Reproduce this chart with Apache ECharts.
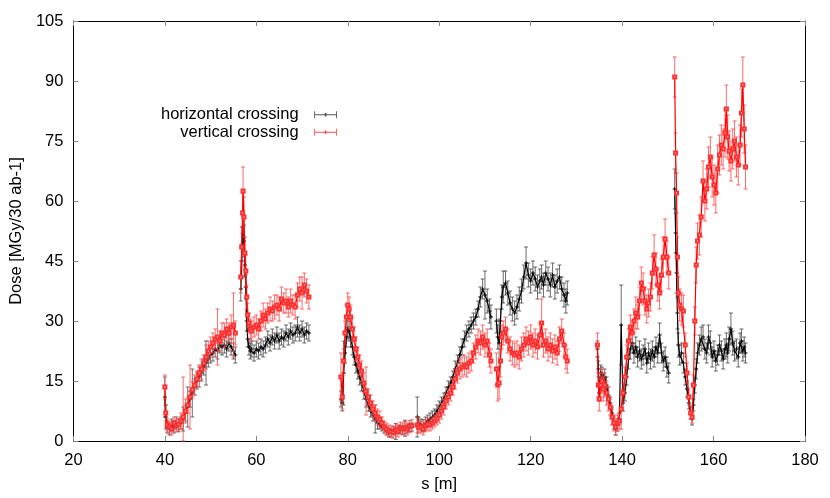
<!DOCTYPE html>
<html>
<head>
<meta charset="utf-8">
<script src="https://cdn.jsdelivr.net/npm/echarts@6/dist/echarts.min.js"></script>
<style>
  html, body { margin: 0; padding: 0; background: #fff; }
  #main { width: 830px; height: 498px; }
</style>
</head>
<body>
<div id="main"></div>
<script>
// s positions [m]; null entries in the dose arrays break the curves
var sPos = [
  40.0, 40.2, 40.5, 41.0, 41.5, 42.0, 42.5, 43.0, 43.5, 44.0,
  44.5, 45.0, 45.5, 46.0, 46.5, 47.0, 47.5, 48.0, 48.5, 49.0,
  49.5, 50.0, 50.5, 51.0, 51.5, 52.0, 52.5, 53.0, 53.5, 54.0,
  54.5, 55.0, 55.4, 56.0,
  56.6, 56.8, 57.0, 57.1, 57.3, 57.5, 57.7, 57.9, 58.1, 58.4, 58.7,
  59.0, 59.5, 60.0, 60.5, 61.0, 61.5, 62.0, 62.5, 63.0, 63.5,
  64.0, 64.5, 65.0, 65.5, 66.0, 66.5, 67.0, 67.5, 68.0, 68.5,
  69.0, 69.5, 70.0, 70.5, 71.0, 71.5, 75.0,
  // 78 - 94
  78.5, 78.8, 79.1, 79.4, 79.7, 80.0, 80.3, 80.6, 81.0, 81.4,
  81.8, 82.2, 82.6, 83.0, 83.5, 84.0, 84.5, 85.0, 85.5, 86.0,
  86.5, 87.0, 87.5, 88.0, 88.5, 89.0, 89.5, 90.0, 90.5, 91.0,
  91.5, 92.0, 92.5, 93.0, 93.5, 94.0, 94.7,
  // 95 - 111
  95.2, 95.5, 96.0, 96.5, 97.0, 97.5, 98.0, 98.5, 99.0, 99.5,
  100.0, 100.5, 101.0, 101.5, 102.0, 102.5, 103.0, 103.5, 104.0, 104.5,
  105.0, 105.5, 106.0, 106.5, 107.0, 107.5, 108.0, 108.5, 109.0, 109.5,
  110.0, 110.5, 111.0, 111.3, 111.8,
  // 112 - 128
  112.5, 112.8, 113.1, 113.4, 113.7, 114.0,
  114.5, 115.0, 115.5, 116.0, 116.5, 117.0, 117.5, 118.0, 118.5, 119.0,
  119.5, 120.0, 120.5, 121.0, 121.5, 122.0,
  122.4, 122.8, 123.3, 123.8, 124.3, 124.8, 125.3, 125.8, 126.3, 126.8, 127.3, 127.7, 128.0,
  131.0,
  // 134 - 150
  134.6, 134.8, 135.0, 135.3, 135.6, 135.9, 136.2, 136.6, 137.0, 137.4,
  137.8, 138.2, 138.6, 139.0, 139.4, 139.8, 140.2, 140.6, 141.0, 141.4,
  141.8, 142.2, 142.6, 143.0, 143.4, 143.8, 144.2, 144.6, 145.0, 145.4,
  145.8, 146.2, 146.6, 147.0, 147.4, 147.8, 148.2, 148.6, 149.0, 149.4,
  149.8, 150.2, 150.9,
  // 151 - 167
  151.5, 151.7, 151.9, 152.1, 152.3, 152.6, 153.0, 153.4, 153.8, 154.2,
  154.6, 155.0, 155.3, 155.6, 155.9, 156.2, 156.5, 156.9, 157.3, 157.7,
  158.1, 158.5, 158.9, 159.3, 159.7, 160.1, 160.5, 160.9, 161.3, 161.7,
  162.1, 162.5, 162.8, 163.1, 163.4, 163.8, 164.2, 164.6, 165.0, 165.4,
  165.8, 166.1, 166.4, 166.7, 167.0
];

var horiz = [
  11, 6, 3.5, 3, 4, 3.5, 4.5, 3.8, 4.5, 5.5,
  7, 8.5, 10.5, 12, 13.5, 15, 16, 17, 18.5, 19.5,
  20.5, 21.5, 22, 23, 22.5, 24, 23.5, 24, 23, 24.5,
  23.5, 22.5, 21.5, null,
  38, 45, 53.5, 52, 50, 44, 38.5, 30, 25.5, 23.5, 22.5,
  23, 22, 23, 22.5, 23.5, 23, 24, 25.5, 24.5, 26,
  25, 26.5, 25, 26, 25.5, 27, 26, 27.5, 26.5, 27,
  28.5, 27, 28, 26.5, 27.5, 27, null,

  10.5, 9.5, 17, 22, 26, 28, 27.5, 26, 23.5, 21,
  19, 17.5, 16, 14.5, 12.5, 10.5, 9, 7.5, 6.5, 5.5,
  4.5, 4, 3.5, 3, 2.5, 2, 2.2, 2.6, 2.4, 2.8,
  3, 2.7, 3.2, 3, 3.4, 3.5, null,

  6, 4.5, 4, 3.8, 4.5, 5, 5.5, 6, 6.5, 7.5,
  8.5, 9.5, 10.5, 12, 13.5, 14.5, 16, 18, 19.5, 21.5,
  23.5, 25.5, 27, 28, 29, 30, 31, 33, 36, 38,
  36.5, 35, 32.5, 31, null,

  30, 26, 24.5, 30, 36, 38.5,
  39.5, 37, 34.5, 33, 32, 33.5, 35.5, 37.5, 41, 44.5,
  41.5, 40, 42, 40.5, 38.5, 40,
  41, 39, 42, 40.5, 39, 41.5, 38.5, 40, 41, 38, 36.5, 35, 37,
  null,

  23, 18, 12, 17, 16.5, 15, 16, 14, 11.5, 9.5,
  7, 4.5, 3, 4, 5.5, 29, 9.5, 12, 16, 20.5,
  23, 24.5, 22, 23.5, 21, 22.5, 20.5, 21.5, 23, 19.5,
  22, 20.5, 22.5, 21, 23.5, 22, 26.5, 22, 20, 21,
  18.5, 17, null,

  63, 52, 42, 32, 24, 21.5, 22, 19.5, 16, 13,
  9.5, 7, 5.5, 9, 14, 18, 22, 24, 25.5, 26,
  23, 22, 26, 24.5, 21, 22.5, 20, 21.5, 24, 22.5,
  20.5, 23, 24, 22, 25.5, 28, 24.5, 22.5, 23, 21,
  24.5, 25, 22.5, 23.5, 22
];

var vert = [
  13.5, 7, 4, 3.5, 3, 4.5, 3.8, 4.2, 5, 6,
  7.5, 9, 11, 12.8, 14, 15.5, 17, 18, 19.5, 21,
  22.5, 23.5, 24.5, 25.5, 26, 25, 27, 26.5, 28, 27,
  28.5, 29, 27, null,
  41, 48.5, 57, 62.5, 56, 47, 42.5, 36, 31.5, 29.5, 28,
  27.5, 28.5, 29, 28, 30, 31.5, 30.5, 32, 33, 32.5,
  33.5, 34, 33, 35.5, 34.5, 35, 33.5, 35, 34, 33.5,
  36.5, 38, 37, 39, 37.5, 36, null,

  16, 11, 20, 27, 31, 34, 33, 31, 28, 25.5,
  23, 21, 19, 17.5, 14.5, 12.5, 11, 9.5, 8, 7,
  6, 5.5, 4.5, 3.5, 3, 2.5, 2.3, 2.2, 2.8, 2.5,
  3.2, 3, 3.4, 3, 3.6, 3.8, null,

  4, 3.5, 3.5, 3, 3.8, 4.2, 4, 4.5, 5, 5.5,
  6.5, 7.5, 8.5, 10, 11, 12, 13.5, 15.5, 17, 18,
  18.5, 19, 18.5, 19.5, 20, 22, 23.5, 25, 24.5, 26,
  24, 25, 21.5, 20, null,

  18, 14, 14.5, 20, 26, 27,
  28, 25, 23, 22, 21.5, 22, 21, 23, 24, 25.5,
  24.5, 26, 24, 25, 23.5, 26.5,
  29.5, 24, 25, 23, 24, 22.5, 23.5, 22, 25.5, 27.5, 24, 21, 20,
  null,

  24, 14, 10.5, 14, 15, 13, 14, 12, 10.5, 8.5,
  6, 4.5, 3.5, 4.5, 5, 8, 12, 16, 21, 25,
  28.5, 27, 30, 32, 31, 35, 39.5, 38, 35, 33,
  34.5, 36, 42, 46.5, 43, 39, 37, 41.5, 46, 50.5,
  46, 42, null,

  91, 72, 62, 46, 37, 34, 33, 32.5, 24, 17,
  11, 7, 6, 14, 30, 44, 50, 51.5, 56, 65,
  60, 63, 68.5, 71, 66, 64, 62, 68, 71.5, 74,
  73, 77, 83, 76, 72.5, 70, 73, 75, 71, 69,
  74, 82, 89, 78, 68.5
];

var horizErr = [
  5, 3, 1.5, 1.5, 1.5, 1.5, 1.5, 1.5, 1.5, 3,
  2, 5, 2, 6, 2, 2, 2.5, 2, 2, 5.5,
  2, 2, 2, 2, 2, 2, 2, 2, 2, 2,
  2, 2, 2, null,
  3, 4, 4, 4, 4, 3, 3, 2.5, 2, 2, 2,
  2, 2, 2, 2, 2, 2, 2, 2, 2, 2,
  2, 2, 2, 2, 2, 2, 2, 2, 2, 2,
  2.5, 2, 2, 2, 2, 2, null,

  2, 2, 8, 2.5, 2.5, 2.5, 2.5, 2.5, 2, 2,
  2, 2, 2, 2, 2, 2, 1.5, 1.5, 1.5, 3.5,
  1.5, 1, 1, 1, 1, 1, 1, 1, 2, 1,
  1, 1, 2, 1, 1, 1, null,

  5, 1.5, 1.5, 1.5, 1.5, 1.5, 1.5, 1.5, 1.5, 1.5,
  1.5, 1.5, 1.5, 1.5, 1.5, 1.5, 1.5, 2, 2, 2,
  2, 2, 2, 2, 2, 2, 2, 2, 2.5, 2.5,
  6, 3, 3, 3, null,

  3, 3, 6, 3, 3, 4,
  3, 3, 3, 3, 3, 3, 3, 3, 3, 4,
  3, 3, 3, 3, 3, 3,
  3, 3, 3, 3, 3, 3, 3, 3, 3, 3, 3, 3, 3,
  null,

  2, 2, 2, 2, 2, 2, 2, 2, 2, 1.5,
  1.5, 1.5, 1.5, 1.5, 1.5, 10, 2, 2, 2, 2.5,
  2.5, 2.5, 2.5, 2.5, 2.5, 2.5, 2.5, 2.5, 2.5, 2.5,
  2.5, 2.5, 2.5, 2.5, 2.5, 2.5, 3, 2.5, 2.5, 2.5,
  2.5, 2.5, null,

  5, 5, 5, 4, 3, 2.5, 2.5, 2.5, 2, 2,
  1.5, 1.5, 1.5, 1.5, 2, 2.5, 2.5, 2.5, 3, 3,
  2.5, 2.5, 3, 3, 2.5, 2.5, 2.5, 2.5, 2.5, 2.5,
  2.5, 2.5, 3, 2.5, 3, 4, 3, 2.5, 2.5, 2.5,
  2.5, 3, 2.5, 2.5, 2.5
];

var vertErr = [
  3, 2, 1.5, 1.5, 1.5, 1.5, 1.5, 1.5, 2, 10,
  3, 2, 8, 2, 2.5, 2, 2, 2.5, 2, 3,
  2.5, 2.5, 2.5, 2.5, 7, 2.5, 2.5, 3, 2.5, 2.5,
  3, 8, 3, null,
  4, 5, 5, 6, 5, 4, 4, 3, 3, 2.5, 2.5,
  2.5, 2.5, 2.5, 2.5, 2.5, 3, 2.5, 2.5, 3, 2.5,
  3, 2.5, 3, 3, 2.5, 3, 2.5, 3, 2.5, 3,
  3, 3, 4, 3, 3, 3, null,

  6, 3, 3, 3, 3, 3, 3, 3, 3, 3,
  3, 2.5, 2.5, 2.5, 2.5, 6, 2, 2, 2, 2,
  2, 2, 1.5, 1.5, 1.5, 1.5, 1.5, 1.5, 1.5, 1.5,
  1.5, 1.5, 1.5, 1.5, 1.5, 1.5, null,

  2, 1.5, 1.5, 1.5, 1.5, 1.5, 1.5, 1.5, 1.5, 1.5,
  2, 2, 2, 2, 2, 2, 2, 2.5, 2.5, 2.5,
  2.5, 2.5, 2.5, 2.5, 2.5, 2.5, 3, 3, 3, 3,
  3, 3, 3, 3, null,

  4, 4, 4, 4, 3, 3,
  3, 3, 3, 3, 3, 3, 3, 3, 3, 3,
  3, 3, 3, 3, 3, 3,
  6, 3, 3, 3, 3, 3, 3, 3, 3, 3, 3, 3, 3,
  null,

  3, 3, 3, 3, 3, 3, 3, 3, 3, 2,
  2, 2, 2, 2, 2, 5, 2.5, 2.5, 3, 3,
  3, 3, 3, 4, 3, 3.5, 4, 4, 3.5, 3.5,
  3.5, 3.5, 4, 5, 4, 4, 4, 4, 5, 5,
  4, 4, null,

  5, 5, 5, 5, 4, 4, 4, 4, 3, 2.5,
  2, 1.5, 1.5, 2.5, 3.5, 4.5, 4.5, 5, 5, 5,
  5, 5, 5, 5, 5, 5, 5, 6, 5, 5,
  5, 6, 6, 5.5, 5, 5, 5, 5, 5, 5,
  5, 6, 7, 6, 5.5
];

var seriesNames = ['horizontal crossing', 'vertical crossing'];
var xTicks = { min: 20, max: 180, step: 20 };
var yTicks = { min: 0, max: 105, step: 15 };

var FONT = 'Liberation Sans, Arial, sans-serif';

function linePoints(ys) {
  return sPos.map(function (x, i) {
    return [x, ys[i] == null ? null : ys[i]];
  });
}
function barPoints(ys, es) {
  var out = [];
  sPos.forEach(function (x, i) {
    if (ys[i] != null) out.push([x, ys[i], es[i]]);
  });
  return out;
}

function errBars(color) {
  return function (params, api) {
    var x = api.value(0), y = api.value(1), e = api.value(2);
    var hi = api.coord([x, y + e]);
    var lo = api.coord([x, Math.max(0, y - e)]);
    var w = 2;
    var st = { stroke: color, lineWidth: 1 };
    return {
      type: 'group',
      children: [
        { type: 'line', shape: { x1: hi[0], y1: hi[1], x2: lo[0], y2: lo[1] }, style: st },
        { type: 'line', shape: { x1: hi[0] - w, y1: hi[1], x2: hi[0] + w, y2: hi[1] }, style: st },
        { type: 'line', shape: { x1: lo[0] - w, y1: lo[1], x2: lo[0] + w, y2: lo[1] }, style: st }
      ]
    };
  };
}

var plusSym = 'path://M4,0h2v4h4v2h-4v4h-2v-4h-4v-2h4z';
var keyIcon = 'path://M0,3.5H26V4.5H0Z M0,0H1V8H0Z M25,0H26V8H25Z M12,2H14V6H12Z';

var myChart = echarts.init(document.getElementById('main'));

function axisBase(pos, showLabels) {
  return {
    type: 'value',
    position: pos,
    axisLine: { show: true, onZero: false, lineStyle: { color: '#000', width: 1 } },
    axisTick: { show: true, inside: true, length: 5, lineStyle: { color: '#888' } },
    splitLine: { show: false },
    axisLabel: { show: showLabels, color: '#000', fontSize: 16.5, fontFamily: FONT }
  };
}

var xBottom = axisBase('bottom', true);
xBottom.min = xTicks.min; xBottom.max = xTicks.max; xBottom.interval = xTicks.step;
xBottom.axisLabel.margin = 11;
xBottom.name = 's [m]';
xBottom.nameLocation = 'middle';
xBottom.nameGap = 35;
xBottom.nameTextStyle = { color: '#000', fontSize: 16.5, fontFamily: FONT };
var xTop = axisBase('top', false);
xTop.min = xTicks.min; xTop.max = xTicks.max; xTop.interval = xTicks.step;

var yLeft = axisBase('left', true);
yLeft.min = yTicks.min; yLeft.max = yTicks.max; yLeft.interval = yTicks.step;
yLeft.axisLabel.margin = 10;
yLeft.name = 'Dose [MGy/30 ab-1]';
yLeft.nameLocation = 'middle';
yLeft.nameGap = 47;
yLeft.nameTextStyle = { color: '#000', fontSize: 16.5, fontFamily: FONT };
var yRight = axisBase('right', false);
yRight.min = yTicks.min; yRight.max = yTicks.max; yRight.interval = yTicks.step;

var option = {
  animation: false,
  backgroundColor: '#fff',
  grid: { left: 72, right: 25, top: 21, bottom: 56 },
  legend: {
    orient: 'vertical',
    left: 156,
    top: 101,
    align: 'right',
    itemWidth: 26,
    itemHeight: 7,
    itemGap: 0,
    padding: 5,
    selectedMode: false,
    textStyle: { color: '#000', fontSize: 16.5, fontFamily: FONT, lineHeight: 17.5, padding: [0, 9, 0, 0] },
    data: [
      { name: seriesNames[0], icon: keyIcon, itemStyle: { color: '#555' } },
      { name: seriesNames[1], icon: keyIcon, itemStyle: { color: '#ff5050' } }
    ]
  },
  xAxis: [xBottom, xTop],
  yAxis: [yLeft, yRight],
  series: [
    {
      type: 'custom',
      renderItem: errBars('rgba(60,60,60,0.75)'),
      data: barPoints(horiz, horizErr),
      encode: { x: 0, y: 1 },
      silent: true,
      z: 1
    },
    {
      name: seriesNames[0],
      type: 'line',
      data: linePoints(horiz),
      connectNulls: false,
      symbol: plusSym,
      symbolSize: 4,
      lineStyle: { color: '#000', width: 1.2 },
      itemStyle: { color: '#000' },
      z: 2
    },
    {
      type: 'custom',
      renderItem: errBars('rgba(255,70,70,0.8)'),
      data: barPoints(vert, vertErr),
      encode: { x: 0, y: 1 },
      silent: true,
      z: 3
    },
    {
      name: seriesNames[1],
      type: 'line',
      data: linePoints(vert),
      connectNulls: false,
      symbol: 'emptyRect',
      symbolSize: 3,
      lineStyle: { color: '#ff0000', width: 1.2 },
      itemStyle: { color: '#ff3030', borderWidth: 0.8 },
      z: 4
    }
  ]
};
myChart.setOption(option);
</script>
</body>
</html>
